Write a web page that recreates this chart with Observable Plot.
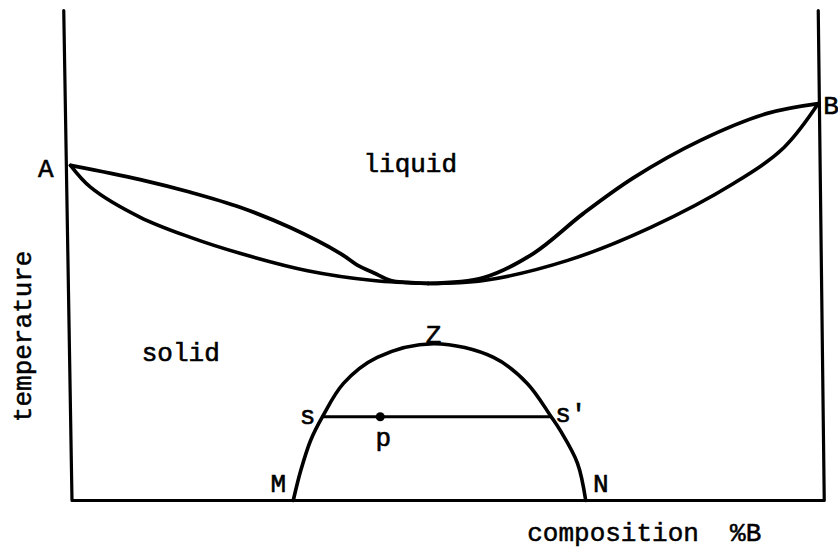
<!DOCTYPE html>
<html><head><meta charset="utf-8">
<script src="https://cdn.jsdelivr.net/npm/d3@7"></script>
<script src="https://cdn.jsdelivr.net/npm/@observablehq/plot@0.6"></script>
<style>body{margin:0;background:#fff}</style>
</head><body><div id="chart"></div>
<script>
// composition (%B) and temperature (relative units)
const liquidusLeftX = [0, 9.3, 16, 22.7, 29.3, 36, 38.3, 40.4, 42.7, 44.9, 47.7];
const liquidusLeftT = [68.4, 65.5, 62.9, 59.8, 55.7, 50.4, 48, 46.5, 44.9, 44.5, 44.3];
const solidusLeftX = [0, 2.7, 9.3, 16, 22.7, 31.6, 40.4, 47.7];
const solidusLeftT = [68.4, 63.9, 57.8, 53.7, 50.4, 46.9, 44.9, 44.3];
const liquidusRightX = [47.7, 55.1, 61.7, 68.4, 75.1, 84, 92.9, 99.7];
const liquidusRightT = [44.3, 45.5, 50.4, 58.6, 65.9, 73.5, 79, 81];
const solidusRightX = [47.7, 55.1, 66.3, 77.3, 88.4, 95.1, 99.7];
const solidusRightT = [44.3, 44.9, 49, 55.7, 64.7, 72, 81];
const domeX = [29.7, 30.7, 32, 33.6, 36.4, 40.9, 48.4, 56.4, 60.9, 64, 65.3, 67.6, 68.7];
const domeT = [0, 6.1, 12.2, 17.1, 23.9, 29.2, 32, 29.2, 23.9, 17.3, 14.3, 7.6, 0];
const tieX = [33.6, 64];
const tieT = [17.1, 17.1];
const pointX = [41.3];
const pointT = [17.1];
const frameX = [-0.9, 0.2, 100.5, 99.7];
const frameT = [100, 0, 0, 100];
const labelText = ["A", "B", "liquid", "solid", "Z", "s", "s'", "p", "M", "N"];
const labelX = [-3.3, 101.4, 45.3, 14.7, 48.4, 31.6, 66.7, 41.7, 27.7, 70.7];
const labelT = [67.8, 80.6, 68.8, 30.2, 33.9, 17.3, 17.8, 12.9, 3.5, 3.5];
const yTitle = "temperature";
const xTitle = "composition\u00a0\u00a0%B";

const pts = (xs, ts) => xs.map((x, i) => ({x, t: ts[i]}));
const labels = labelText.map((s, i) => ({s, x: labelX[i], t: labelT[i]}));
const line = (xs, ts, w) => Plot.line(pts(xs, ts), {x: "x", y: "t", stroke: "black", strokeWidth: w, curve: "catmull-rom", strokeLinejoin: "round", strokeLinecap: "round"});

const chart = Plot.plot({
  width: 838, height: 550,
  marginLeft: 70, marginRight: 18, marginTop: 10, marginBottom: 50,
  x: {domain: [0, 100], axis: null},
  y: {domain: [0, 100], axis: null},
  style: {fontFamily: "'Liberation Mono', monospace", background: "white", color: "black"},
  marks: [
    Plot.line(pts(frameX, frameT), {x: "x", y: "t", stroke: "black", strokeWidth: 3.2, curve: "linear"}),
    line(liquidusLeftX, liquidusLeftT, 3.8),
    line(solidusLeftX, solidusLeftT, 3.6),
    line(liquidusRightX, liquidusRightT, 3.8),
    line(solidusRightX, solidusRightT, 3.6),
    line(domeX, domeT, 3.6),
    Plot.line(pts(tieX, tieT), {x: "x", y: "t", stroke: "black", strokeWidth: 3}),
    Plot.dot(pts(pointX, pointT), {x: "x", y: "t", r: 4.5, fill: "black"}),
    Plot.text(labels, {x: "x", y: "t", text: "s", fontSize: 26, fill: "black", stroke: "black", strokeWidth: 0.6}),
    Plot.text([{x: -6.4, t: 33.5}], {x: "x", y: "t", text: () => yTitle, rotate: -90, fontSize: 26, fill: "black", stroke: "black", strokeWidth: 0.5}),
    Plot.text([{x: 60.9, t: -6.6}], {x: "x", y: "t", text: () => xTitle, textAnchor: "start", fontSize: 26, fill: "black", stroke: "black", strokeWidth: 0.5})
  ]
});
document.getElementById("chart").appendChild(chart);
</script>
</body></html>
